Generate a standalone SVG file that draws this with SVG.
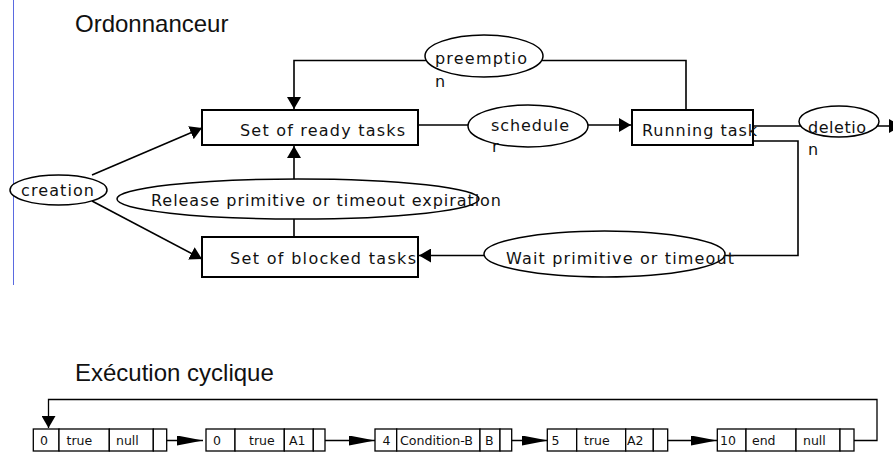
<svg xmlns="http://www.w3.org/2000/svg" width="893" height="452" viewBox="0 0 893 452">
<style>
.title{font-family:"Liberation Sans",Arial,sans-serif;font-size:24px;fill:#111}
.lbl{font-family:"DejaVu Sans",sans-serif;font-size:16px;fill:#111}
.box{fill:#fff;stroke:#000;stroke-width:2}
.ell{fill:#fff;stroke:#000;stroke-width:1.5}
.con{fill:none;stroke:#000;stroke-width:1.6}
.lcon{fill:none;stroke:#000;stroke-width:1.3}
.cell{fill:#fff;stroke:#000;stroke-width:1.3}
.ct{font-family:"DejaVu Sans",sans-serif;font-size:12.5px;fill:#111}
</style>
<defs>
<marker id="ah" viewBox="0 0 12 14" refX="12" refY="7" markerWidth="12" markerHeight="14" markerUnits="userSpaceOnUse" orient="auto"><path d="M0,0 L12,7 L0,14 z" fill="#000"/></marker>
<marker id="ahl" viewBox="0 0 26 10" refX="26" refY="5" markerWidth="26" markerHeight="10" markerUnits="userSpaceOnUse" orient="auto"><path d="M0,0 L26,5 L0,10 z" fill="#000"/></marker>
</defs>
<rect width="893" height="452" fill="#fff"/>
<line x1="13.5" y1="0" x2="13.5" y2="285" stroke="#5a6ae0" stroke-width="1"/>
<text class="title" x="75" y="32">Ordonnanceur</text>
<text class="title" x="75" y="381">Exécution cyclique</text>

<g id="connectors">
<polyline class="con" points="686,110 686,60.5 294,60.5 294,109" marker-end="url(#ah)"/>
<polyline class="con" points="418,125 631,125" marker-end="url(#ah)"/>
<polyline class="con" points="753,126 901,126" marker-end="url(#ah)"/>
<polyline class="con" points="753,141 798,141 798,255.5 419,255.5" marker-end="url(#ah)"/>
<polyline class="con" points="294,237 294,146" marker-end="url(#ah)"/>
<line class="con" x1="92" y1="175" x2="202" y2="128" marker-end="url(#ah)"/>
<line class="con" x1="92" y1="201" x2="202" y2="259" marker-end="url(#ah)"/>
<polyline class="lcon" points="157,440.5 203,440.5" marker-end="url(#ahl)"/>
<polyline class="lcon" points="320,440.5 375,440.5" marker-end="url(#ahl)"/>
<polyline class="lcon" points="506,440.5 548,440.5" marker-end="url(#ahl)"/>
<polyline class="lcon" points="659,440.5 717,440.5" marker-end="url(#ahl)"/>
<polyline class="lcon" points="846,440.5 877,440.5 877,399.5 48.5,399.5 48.5,428" marker-end="url(#ah)"/>
</g>

<g id="ready">
<rect class="box" x="202" y="110" width="216" height="35"/>
<text class="lbl" x="240" y="136" textLength="165" lengthAdjust="spacing">Set of ready tasks</text>
</g>
<g id="blocked">
<rect class="box" x="202" y="237" width="216" height="40"/>
<text class="lbl" x="230" y="264" textLength="186" lengthAdjust="spacing">Set of blocked tasks</text>
</g>
<g id="running">
<rect class="box" x="632" y="110" width="121" height="35"/>
<text class="lbl" x="642" y="136" textLength="115" lengthAdjust="spacing">Running task</text>
</g>
<g id="preemption">
<ellipse class="ell" cx="484" cy="56" rx="59" ry="21"/>
<text class="lbl" x="435" y="64" textLength="92" lengthAdjust="spacing">preemptio</text>
<text class="lbl" x="435" y="87">n</text>
</g>
<g id="schedule">
<ellipse class="ell" cx="528" cy="126" rx="60" ry="21"/>
<text class="lbl" x="491" y="131" textLength="78" lengthAdjust="spacing">schedule</text>
<text class="lbl" x="492" y="152">r</text>
</g>
<g id="deletion">
<ellipse class="ell" cx="839" cy="121.5" rx="40" ry="15.5"/>
<text class="lbl" x="808" y="133" textLength="58" lengthAdjust="spacing">deletio</text>
<text class="lbl" x="808" y="155">n</text>
</g>
<g id="creation">
<ellipse class="ell" cx="58.5" cy="190" rx="48.5" ry="15"/>
<text class="lbl" x="21" y="196" textLength="73" lengthAdjust="spacing">creation</text>
</g>
<g id="release">
<ellipse class="ell" cx="298" cy="199" rx="181" ry="20"/>
<text class="lbl" x="151" y="206" textLength="350" lengthAdjust="spacing">Release primitive or timeout expiration</text>
</g>
<g id="wait">
<ellipse class="ell" cx="604.5" cy="254" rx="120.5" ry="23"/>
<text class="lbl" x="506" y="264" textLength="228" lengthAdjust="spacing">Wait primitive or timeout</text>
</g>

<g id="n1">
<rect class="cell" x="33.3" y="429" width="25.7" height="22"/>
<rect class="cell" x="59" y="429" width="50.3" height="22"/>
<rect class="cell" x="109.3" y="429" width="44" height="22"/>
<rect class="cell" x="153.3" y="429" width="13.4" height="22" fill="none"/>
<text class="ct" x="40" y="445">0</text>
<text class="ct" x="66.5" y="445">true</text>
<text class="ct" x="116" y="445">null</text>
</g>
<g id="n2">
<rect class="cell" x="206" y="429" width="29" height="22"/>
<rect class="cell" x="235" y="429" width="49.3" height="22"/>
<rect class="cell" x="284.3" y="429" width="29" height="22"/>
<rect class="cell" x="313.3" y="429" width="11.7" height="22" fill="none"/>
<text class="ct" x="213" y="445">0</text>
<text class="ct" x="249" y="445">true</text>
<text class="ct" x="289" y="445">A1</text>
</g>
<g id="n3">
<rect class="cell" x="375" y="429" width="21.7" height="22"/>
<rect class="cell" x="396.7" y="429" width="83.3" height="22"/>
<rect class="cell" x="480" y="429" width="20" height="22"/>
<rect class="cell" x="500" y="429" width="11.7" height="22" fill="none"/>
<text class="ct" x="382.5" y="445">4</text>
<text class="ct" x="400" y="445" textLength="73" lengthAdjust="spacingAndGlyphs">Condition-B</text>
<text class="ct" x="485" y="445">B</text>
</g>
<g id="n4">
<rect class="cell" x="547.3" y="429" width="29.4" height="22"/>
<rect class="cell" x="576.7" y="429" width="49" height="22"/>
<rect class="cell" x="625.7" y="429" width="27.6" height="22"/>
<rect class="cell" x="653.3" y="429" width="14.4" height="22" fill="none"/>
<text class="ct" x="551.5" y="445">5</text>
<text class="ct" x="584" y="445">true</text>
<text class="ct" x="627" y="445">A2</text>
</g>
<g id="n5">
<rect class="cell" x="717.3" y="429" width="28.7" height="22"/>
<rect class="cell" x="746" y="429" width="50" height="22"/>
<rect class="cell" x="796" y="429" width="44" height="22"/>
<rect class="cell" x="840" y="429" width="14" height="22" fill="none"/>
<text class="ct" x="720" y="445">10</text>
<text class="ct" x="752" y="445">end</text>
<text class="ct" x="803" y="445">null</text>
</g>
</svg>
